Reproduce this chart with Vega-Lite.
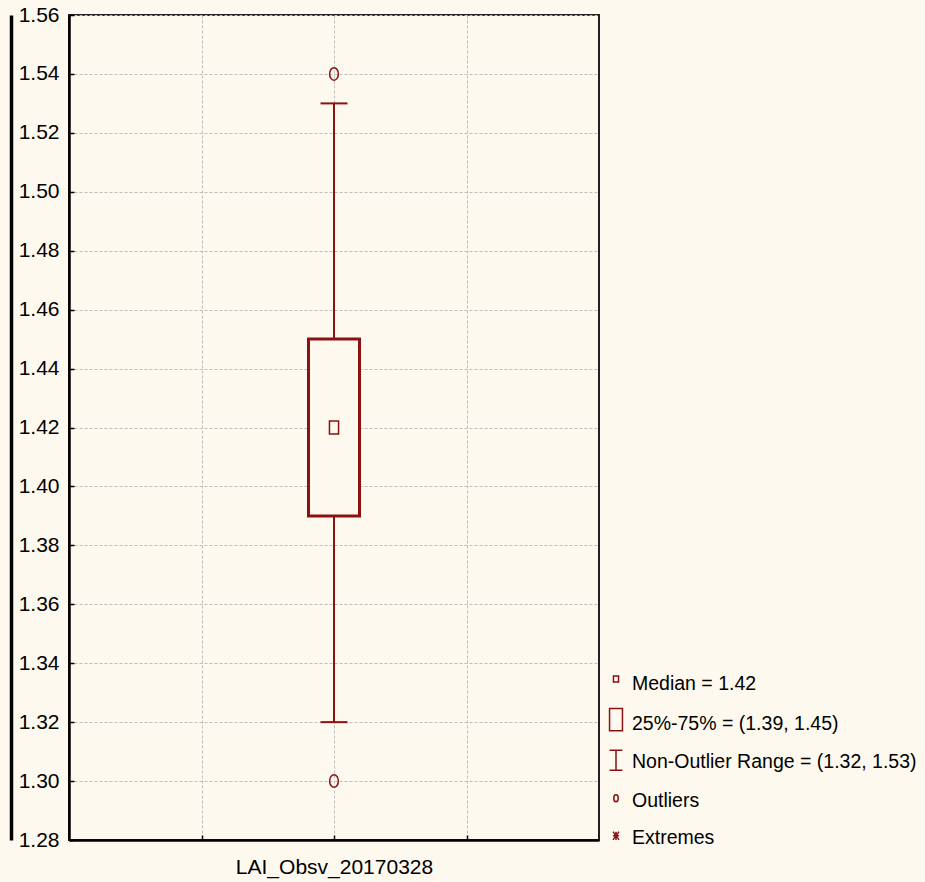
{
  "$schema": "https://vega.github.io/schema/vega-lite/v6.json",
  "width": 530,
  "height": 825,
  "autosize": {"type": "none"},
  "padding": {"left": 69, "top": 15, "right": 326, "bottom": 42},
  "background": "#FEF9EE",
  "datasets": {
    "box": [{"variable": "LAI_Obsv_20170328", "min": 1.32, "q1": 1.39, "median": 1.42, "q3": 1.45, "max": 1.53}],
    "outliers": [
      {"variable": "LAI_Obsv_20170328", "value": 1.54},
      {"variable": "LAI_Obsv_20170328", "value": 1.30}
    ],
    "legend": [
      {"item": "Median = 1.42"},
      {"item": "25%-75% = (1.39, 1.45)"},
      {"item": "Non-Outlier Range = (1.32, 1.53)"},
      {"item": "Outliers"},
      {"item": "Extremes"}
    ]
  },
  "config": {
    "font": "Liberation Sans",
    "view": {"stroke": "#222222", "strokeWidth": 2},
    "axis": {
      "labelFont": "Liberation Sans",
      "labelFontSize": 21,
      "labelColor": "#000000",
      "labelLimit": 0,
      "domainColor": "#000000",
      "domainWidth": 2.5,
      "tickColor": "#000000",
      "tickWidth": 1.5,
      "tickSize": -5,
      "gridColor": "#BDBDBD",
      "gridDash": [3, 2],
      "gridWidth": 1
    },
    "legend": {
      "labelFont": "Liberation Sans",
      "labelFontSize": 19.5,
      "labelColor": "#000000",
      "labelLimit": 0,
      "symbolSize": 900,
      "rowPadding": 11.6,
      "labelOffset": 0,
      "padding": 0
    }
  },
  "resolve": {"scale": {"y": "independent"}},
  "layer": [
    {
      "data": {"name": "box"},
      "layer": [
        {
          "mark": {"type": "rule", "color": "#8B1212", "strokeWidth": 2},
          "encoding": {
            "x": {"field": "variable", "type": "nominal",
              "scale": {"type": "point", "domain": ["_a", "LAI_Obsv_20170328", "_b"], "padding": 1},
              "axis": {"title": null, "grid": true, "labelAngle": 0, "labelPadding": 21,
                "labelExpr": "datum.value == 'LAI_Obsv_20170328' ? datum.value : ''"}},
            "y": {"field": "min", "type": "quantitative",
              "scale": {"domain": [1.28, 1.56], "nice": false, "zero": false},
              "axis": {"title": null, "format": ".2f", "labelPadding": 15,
                "values": [1.28, 1.3, 1.32, 1.34, 1.36, 1.38, 1.4, 1.42, 1.44, 1.46, 1.48, 1.5, 1.52, 1.54, 1.56]}},
            "y2": {"field": "max"}
          }
        },
        {
          "mark": {"type": "bar", "width": 51, "fill": "#FEF9EE", "stroke": "#8B1212", "strokeWidth": 3},
          "encoding": {
            "x": {"field": "variable", "type": "nominal"},
            "y": {"field": "q3", "type": "quantitative"},
            "y2": {"field": "q1"}
          }
        },
        {
          "mark": {"type": "tick", "size": 27, "thickness": 2, "color": "#8B1212", "opacity": 1},
          "encoding": {
            "x": {"field": "variable", "type": "nominal"},
            "y": {"field": "max", "type": "quantitative"}
          }
        },
        {
          "mark": {"type": "tick", "size": 27, "thickness": 2, "color": "#8B1212", "opacity": 1},
          "encoding": {
            "x": {"field": "variable", "type": "nominal"},
            "y": {"field": "min", "type": "quantitative"}
          }
        },
        {
          "mark": {"type": "point", "shape": "M-0.7,-1H0.7V1H-0.7Z", "size": 169, "filled": false, "stroke": "#8B1212", "strokeWidth": 1.5, "opacity": 1},
          "encoding": {
            "x": {"field": "variable", "type": "nominal"},
            "y": {"field": "median", "type": "quantitative"}
          }
        }
      ]
    },
    {
      "data": {"name": "outliers"},
      "mark": {"type": "point", "shape": "M0,-1A0.7,1 0 1,1 0,1A0.7,1 0 1,1 0,-1Z", "size": 156, "filled": false, "stroke": "#8B1212", "strokeWidth": 1.5, "opacity": 1},
      "encoding": {
        "x": {"field": "variable", "type": "nominal"},
        "y": {"field": "value", "type": "quantitative",
          "scale": {"domain": [1.28, 1.56], "nice": false, "zero": false},
          "axis": {"orient": "left", "offset": 58, "title": null, "labels": false, "ticks": false, "grid": false, "domainWidth": 3.5, "domainColor": "#000000"}}
      }
    },
    {
      "data": {"name": "legend"},
      "mark": {"type": "point", "opacity": 0, "filled": false, "color": "#8B1212", "strokeWidth": 1.5},
      "encoding": {
        "shape": {
          "field": "item", "type": "nominal",
          "scale": {
            "domain": ["Median = 1.42", "25%-75% = (1.39, 1.45)", "Non-Outlier Range = (1.32, 1.53)", "Outliers", "Extremes"],
            "range": [
              "M-0.17,-0.53H0.17V-0.13H-0.17Z",
              "M-0.43,-1H0.43V0.47H-0.43Z",
              "M-0.43,-0.8H0.43M0,-0.8V0.53M-0.43,0.53H0.43",
              "M0,-0.4A0.15,0.235 0 1,1 0,0.07A0.15,0.235 0 1,1 0,-0.4Z",
              "M-0.2,-0.45L0.2,0.1M0.2,-0.45L-0.2,0.1M0,-0.45V0.1M-0.2,-0.175H0.2"
            ]
          },
          "legend": {
            "title": null,
            "orient": "none",
            "legendX": 531,
            "legendY": 653,
            "encode": {
              "symbols": {
                "update": {
                  "opacity": {"value": 1},
                  "stroke": {"value": "#8B1212"},
                  "strokeWidth": {"value": 1.2},
                  "fill": {"value": "transparent"}
                }
              }
            }
          }
        }
      }
    }
  ]
}
